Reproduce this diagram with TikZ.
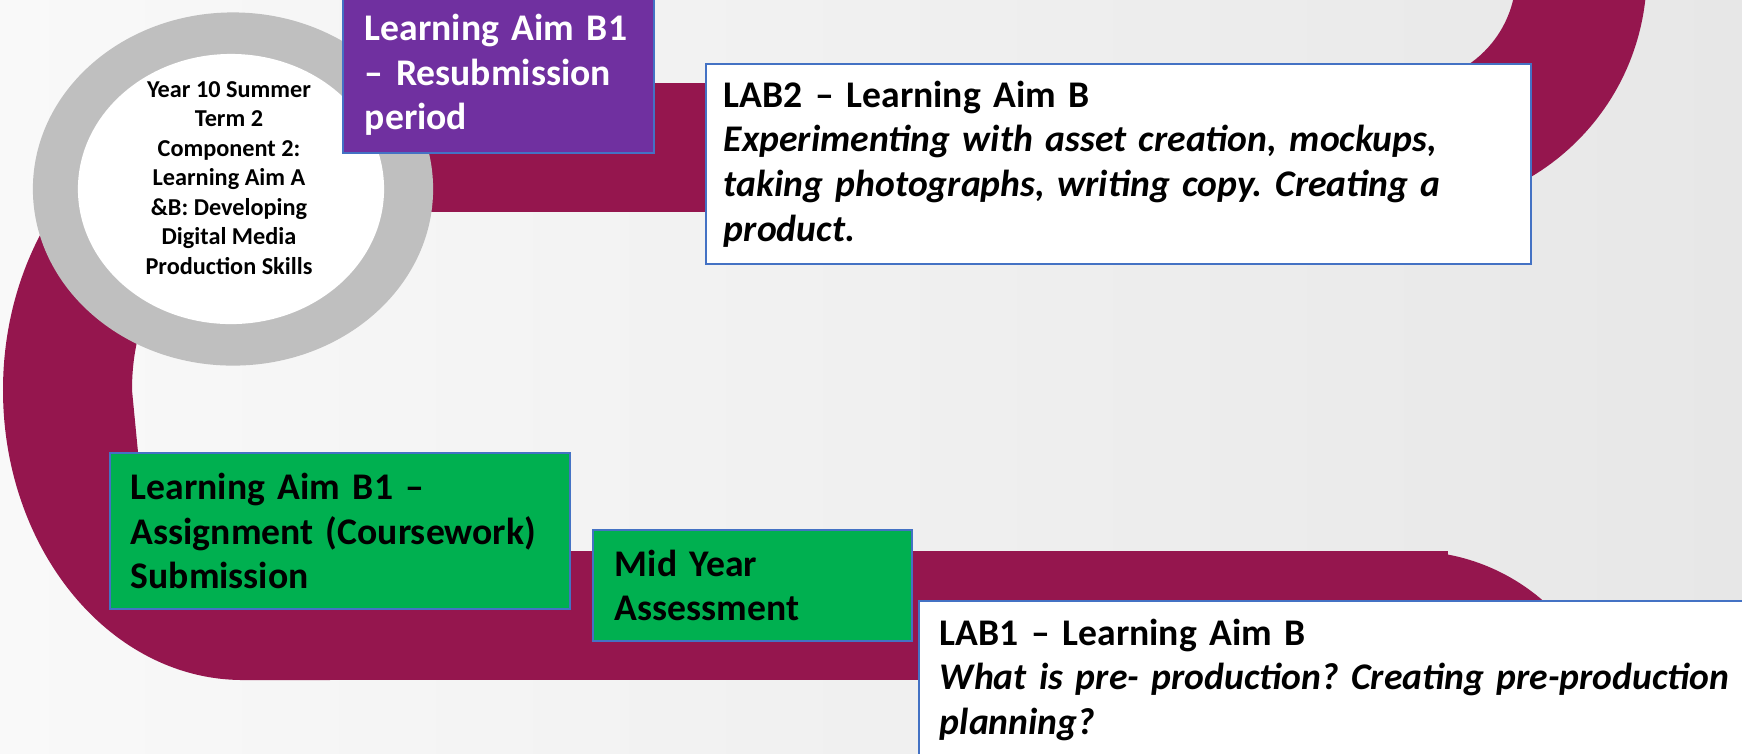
\documentclass[tikz,border=0pt]{standalone}
\usepackage{fontspec}
\setmainfont{Carlito}
\frenchspacing
\usetikzlibrary{positioning,shapes.geometric}

\definecolor{roadred}{RGB}{149,22,78}
\definecolor{ringgray}{RGB}{191,191,191}
\definecolor{aimpurple}{RGB}{112,48,160}
\definecolor{aimgreen}{RGB}{0,176,80}
\definecolor{edgeblue}{RGB}{68,114,196}
\definecolor{bglight}{RGB}{249,249,249}
\definecolor{bgdark}{RGB}{231,231,231}

\begin{document}
\begin{tikzpicture}[
        x=0.01cm, y=-0.01cm,
        road/.style={fill=roadred},
        block/.style={rectangle,draw=edgeblue,line width=0.5pt,anchor=north west,align=left,
            inner ysep=0pt,font=\fontsize{10.7}{12.7}\selectfont\bfseries},
        purplebox/.style={block,fill=aimpurple,text=white},
        greenbox/.style={block,fill=aimgreen},
        notebox/.style={block,fill=white}
    ]
        \useasboundingbox (0,0) rectangle (1742,753);
        \clip (0,0) rectangle (1742,753);
        \shade[left color=bglight,right color=bgdark] (0,0) rectangle (1742,753);

        % the road: top band with its bend up to the right
        \fill[road] (300,83) rectangle (1411,212);
        \fill[road] (1408,83) arc[start angle=90,end angle=-45,radius=108]
            -- ++(93,-93) arc[start angle=-45,end angle=90,radius=237] -- cycle;
        % big turn down the left side
        \fill[road] (243,100) arc[start angle=-90,end angle=-270,x radius=240,y radius=290]
            -- (330,680) -- (330,552)
            .. controls (230,552) and (150,530) .. (138,452) -- (132,390)
            .. controls (132,290) and (190,212) .. (330,212) -- (330,83) -- cycle;
        % bottom band and the bend down at its end
        \fill[road] (300,551) rectangle (1448,680);
        \fill[road] (1410,551) arc[start angle=-90,end angle=0,radius=203] -- (1613,800) -- (1410,800) -- cycle;

        % term badge
        \node[ellipse,fill=ringgray,minimum width=4cm,minimum height=3.53cm,inner sep=0pt] (ring) at (233,189) {};
        \node[ellipse,fill=white,minimum width=3.06cm,minimum height=2.7cm,inner sep=0pt] (hub) at (231,189) {};
        \node[align=center,font=\fontsize{6.9}{8.4}\selectfont\bfseries] (hubtext) at (229,178)
            {Year 10 Summer\\Term 2\\Component 2:\\Learning Aim A\\\&B: Developing\\Digital Media\\Production Skills};

        \node[purplebox,minimum width=3.11cm,minimum height=1.56cm,text width=2.67cm,inner xsep=0.22cm] (resub) at (342,-4)
            {Learning Aim B1\\– Resubmission\\period};
        \node[notebox,minimum width=8.25cm,minimum height=2cm,text width=7.89cm,inner xsep=0.18cm] (labtwo) at (705,63)
            {LAB2 – Learning Aim B\\\itshape Experimenting with asset creation, mockups,\\\itshape taking photographs, writing copy. Creating a\\\itshape product.};
        \node[greenbox,minimum width=4.6cm,minimum height=1.56cm,text width=4.18cm,inner xsep=0.21cm] (submit) at (109,452)
            {Learning Aim B1 –\\Assignment (Coursework)\\Submission};
        \node[greenbox,minimum width=3.19cm,minimum height=1.11cm,text width=2.75cm,inner xsep=0.22cm,
            below right=0.77cm and 0.21cm of submit.north east] (midyear) {Mid Year\\Assessment};
        \node[notebox,minimum width=9cm,minimum height=1.58cm,text width=8.58cm,inner xsep=0.21cm] (labone) at (918,600)
            {LAB1 – Learning Aim B\\\itshape What is pre- production? Creating pre-production\\\itshape planning?};
    \end{tikzpicture}
\end{document}
